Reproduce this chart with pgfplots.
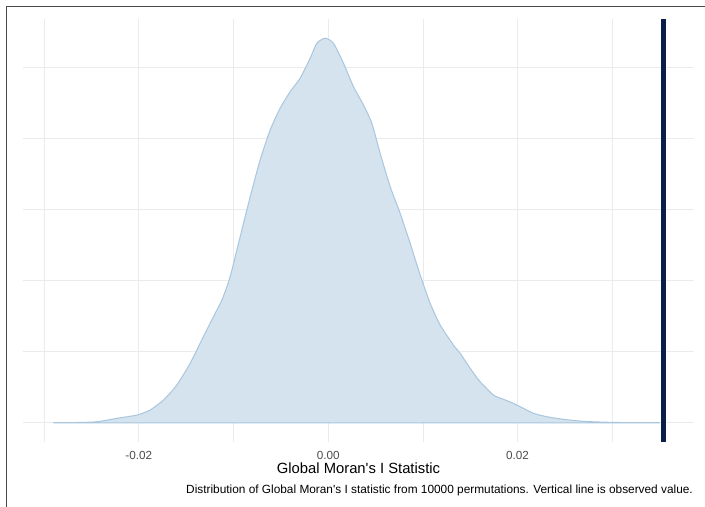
\documentclass[border=0pt]{standalone}
\usepackage{pgfplots}
\pgfplotsset{compat=1.18}
\usepackage{fontspec}
\setmainfont{Liberation Sans}
\definecolor{gridc}{HTML}{EBEBEB}
\definecolor{fillc}{HTML}{D4E3EE}
\definecolor{edgec}{HTML}{A9C6DF}
\definecolor{obsc}{HTML}{0B1E47}
\definecolor{tickc}{HTML}{4D4D4D}
\definecolor{framec}{HTML}{4A4A4A}
\begin{document}
\begin{tikzpicture}
\useasboundingbox[fill=white] (0,0) rectangle (705bp,507bp);
\begin{axis}[
  at={(23bp,65bp)}, anchor=south west,
  scale only axis, width=671bp, height=423bp,
  xmin=-0.03222, xmax=0.03863,
  ymin=-2.71, ymax=56.85,
  axis line style={draw=none},
  major tick length=0pt, minor tick length=0pt,
  tick style={draw=none},
  scaled x ticks=false,
  xtick={-0.02,0,0.02},
  xticklabels={-0.02,0.00,0.02},
  minor xtick={-0.03,-0.01,0.01,0.03},
  ytick={0,10,20,30,40,50},
  yticklabels={},
  grid=both,
  major grid style={draw=gridc, line width=1bp},
  minor grid style={draw=gridc, line width=0.6bp},
  xticklabel style={font=\fontsize{11.7bp}{13bp}\selectfont, text=tickc, anchor=north, inner sep=0pt, yshift=-9bp},
  /pgf/number format/assume math mode=true,
  clip=true,
]
\addplot[fill=fillc, draw=edgec, line width=1bp, smooth, tension=0.4] coordinates {
(-0.02901,0) (-0.0267,0.03) (-0.02442,0.14) (-0.02231,0.62) (-0.02020,1.08)
(-0.01880,1.79) (-0.01739,3.20) (-0.01598,5.31) (-0.01457,8.37)
(-0.01352,11.18) (-0.01211,14.93) (-0.01122,17.28) (-0.01035,20.56) (-0.00929,26.20)
(-0.00823,31.83) (-0.00718,37.00) (-0.00612,41.23) (-0.00507,44.28) (-0.00401,46.62)
(-0.00296,48.51) (-0.00190,51.32) (-0.00119,53.44) (-0.00032,54.14) (0.00056,53.44)
(0.00162,50.62) (0.00267,47.33) (0.00373,44.75) (0.00461,42.17) (0.00549,37.94)
(0.00655,33.24) (0.00760,29.49) (0.00866,25.27) (0.00972,20.80) (0.01077,16.82)
(0.01183,13.76) (0.01323,10.94) (0.01394,9.77) (0.01500,7.66) (0.01605,5.77)
(0.01746,3.90) (0.01851,3.30) (0.01957,2.73) (0.02062,2.03) (0.02168,1.32)
(0.02309,0.85) (0.02485,0.48) (0.02696,0.20) (0.02978,0.06) (0.03250,0.01) (0.03506,0)
} \closedcycle;
\addplot[draw=obsc, line width=4.5bp] coordinates {(0.03541,-2.71) (0.03541,56.85)};
\end{axis}
\node[anchor=base, inner sep=0pt, font=\fontsize{14.8bp}{17bp}\selectfont] at (358.5bp,34bp) {Global Moran\textquotesingle s I Statistic};
\node[anchor=base east, inner sep=0pt, font=\fontsize{11.85bp}{13bp}\selectfont] at (693bp,14bp) {Distribution of Global Moran\textquotesingle s I statistic from 10000 permutations. Vertical line is observed value.};
\draw[framec, line width=1.5bp] (705bp,500.5bp) -- (6.5bp,500.5bp) -- (6.5bp,0bp);
\end{tikzpicture}
\end{document}
